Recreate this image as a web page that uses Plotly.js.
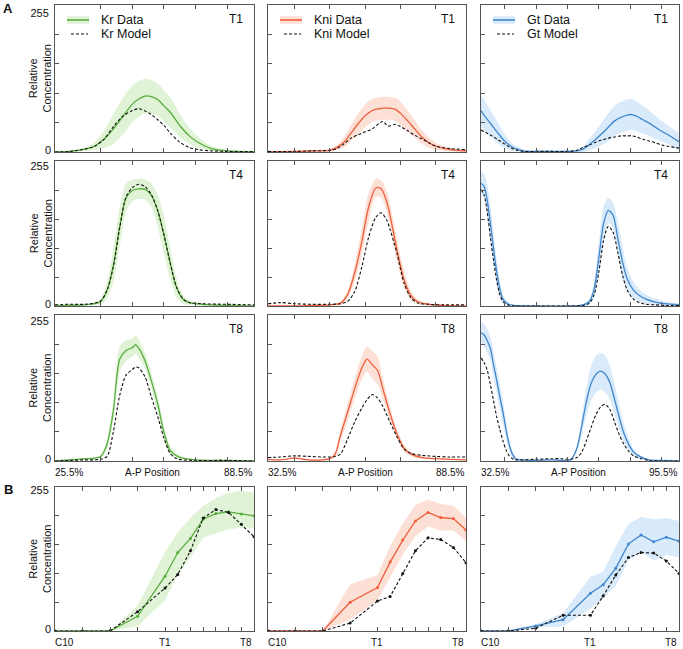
<!DOCTYPE html>
<html><head><meta charset="utf-8">
<script src="https://cdn.plot.ly/plotly-3.0.1.min.js"></script>
<style>html,body{margin:0;padding:0;background:#fff}#chart{width:683px;height:649px}</style>
</head><body><div id="chart"></div>
<script>
// ---------- DATA ----------
const genes = ['Kr', 'Kni', 'Gt'];
const timeSteps = ['T1', 'T4', 'T8'];
const apStartLabels = ['25.5%', '32.5%', '32.5%'];
const apEndLabels = ['88.5%', '88.5%', '95.5%'];
const apTitle = 'A-P Position';
const yTickValues = [0, 51, 102, 153, 204, 255];
const yTopLabel = '255';
const yBottomLabel = '0';

// Kr
const krT1X = [25.5, 30, 35, 38, 41, 44, 47, 50, 52, 54, 56, 58, 60, 62, 65, 68, 71, 75, 80, 88.5];
const krT1Data = [0, 1, 5, 10, 22, 40, 62, 83, 92, 97, 96, 91, 80, 69, 46, 28, 16, 6, 2, 0];
const krT1Model = [0, 1, 5, 10, 22, 44, 62, 72, 75, 71, 65, 56, 46, 33, 17, 8, 4, 2, 1, 1];
const krT1Sd = [0, 1, 3, 7, 15, 26, 32, 32, 31, 30, 29, 28, 27, 26, 20, 14, 9, 4, 2, 0];

const krT4X = [25.5, 30, 35, 38, 40, 42, 44, 46, 48, 50, 52, 54, 56, 58, 60, 62, 64, 66, 68, 72, 80, 88.5];
const krT4Data = [0, 1, 2, 4, 8, 28, 72, 140, 190, 203, 206, 205, 195, 168, 125, 75, 32, 12, 6, 3, 1, 0];
const krT4Model = [2, 3, 3, 5, 9, 28, 70, 138, 192, 208, 214, 210, 196, 168, 125, 75, 33, 13, 6, 4, 3, 2];
const krT4Sd = [0, 1, 1, 2, 5, 15, 30, 35, 25, 19, 18, 18, 21, 28, 33, 28, 17, 8, 4, 2, 1, 0];

const krT8X = [25.5, 30, 35, 38, 40, 42, 44, 46, 48, 50, 51, 52, 54, 56, 58, 60, 62, 64, 66, 70, 80, 88.5];
const krT8Data = [0, 2, 4, 5, 8, 30, 89, 178, 193, 198, 203, 197, 175, 140, 100, 50, 18, 9, 5, 2, 1, 0];
const krT8Model = [0, 1, 2, 2, 3, 8, 52, 115, 150, 160, 164, 163, 147, 112, 78, 40, 13, 4, 2, 1, 1, 0];
const krT8Sd = [0, 1, 1, 1, 3, 8, 18, 22, 18, 16, 16, 16, 14, 14, 14, 12, 8, 4, 2, 1, 0, 0];

// Kni
const kniT1X = [32.5, 40, 45, 50, 52, 54, 56, 58, 60, 62, 64, 65, 66.5, 68.5, 70, 72, 74, 76, 78, 80, 84, 88.5];
const kniT1Data = [0, 1, 2, 3, 8, 17, 33, 49, 63, 72, 75, 76, 76, 74, 67, 54, 40, 26, 16, 10, 4, 2];
const kniT1Model = [1, 1, 2, 3, 6, 14, 24, 30, 35, 40, 50, 53, 45, 48, 44, 37, 29, 23, 16, 10, 6, 4];
const kniT1Sd = [0, 0, 1, 2, 4, 9, 14, 18, 20, 20, 20, 20, 20, 20, 20, 18, 15, 12, 9, 6, 3, 2];

const kniT4X = [32.5, 36, 40, 45, 50, 53, 55, 57, 59, 61, 63, 64.5, 66, 67, 69, 71, 73, 75, 78, 82, 88.5];
const kniT4Data = [0, 0, 0, 1, 2, 5, 20, 58, 112, 175, 208, 206, 185, 160, 98, 46, 18, 7, 3, 1, 0];
const kniT4Model = [4, 6, 4, 3, 3, 4, 8, 25, 68, 122, 156, 164, 152, 135, 92, 40, 14, 5, 3, 2, 2];
const kniT4Sd = [0, 0, 0, 0, 1, 3, 6, 15, 25, 25, 16, 15, 18, 20, 20, 15, 8, 4, 2, 1, 0];

const kniT8X = [32.5, 36, 40, 44, 48, 50, 51.5, 53, 55, 57, 59, 60.5, 62, 63.5, 65, 67, 69, 71, 73, 76, 80, 84, 88.5];
const kniT8Data = [3, 2, 5, 2, 2, 4, 12, 45, 85, 126, 162, 178, 168, 158, 126, 83, 47, 22, 12, 6, 4, 3, 2];
const kniT8Model = [6, 7, 9, 8, 7, 7, 8, 12, 38, 68, 92, 107, 116, 110, 95, 68, 42, 21, 13, 10, 8, 7, 7];
const kniT8Sd = [0, 0, 1, 1, 1, 1, 5, 10, 15, 18, 20, 22, 24, 24, 18, 12, 8, 6, 4, 2, 1, 1, 0];

// Gt
const gtT1X = [32.5, 34, 36, 38, 40, 42, 44, 46, 50, 55, 60, 63, 65, 67, 69, 71, 73, 75, 77, 79, 80.5, 82, 84, 86, 88, 90, 92, 94, 95.5];
const gtT1Data = [72, 60, 46, 32, 19, 10, 5, 2, 1, 1, 1, 2, 5, 13, 22, 32, 43, 54, 60, 64, 65, 62, 56, 50, 43, 36, 30, 23, 18];
const gtT1Model = [38, 34, 28, 21, 14, 7, 3, 1, 1, 1, 1, 3, 8, 12, 17, 21, 24, 26, 28, 28, 28, 26, 22, 19, 16, 12, 10, 8, 7];
const gtT1Sd = [28, 26, 22, 18, 12, 7, 4, 2, 1, 1, 1, 2, 5, 10, 15, 20, 24, 26, 27, 27, 27, 26, 24, 22, 20, 18, 16, 15, 14];

const gtT4X = [32.5, 33.5, 34.5, 35.5, 36.5, 37.5, 38.5, 39.5, 41, 43, 50, 60, 65, 67, 68.5, 70, 71.5, 73, 74.5, 76, 77.5, 79, 81, 83, 85, 88, 91, 95.5];
const gtT4Data = [216, 210, 185, 145, 100, 60, 30, 12, 4, 1, 0, 0, 2, 8, 30, 85, 145, 168, 160, 120, 78, 48, 28, 18, 12, 7, 4, 2];
const gtT4Model = [205, 195, 165, 120, 80, 45, 20, 8, 2, 0, 0, 0, 1, 5, 20, 60, 115, 140, 130, 95, 55, 28, 12, 6, 3, 2, 1, 1];
const gtT4Sd = [20, 22, 28, 30, 28, 22, 14, 7, 3, 1, 0, 0, 2, 5, 15, 28, 30, 22, 22, 30, 28, 20, 14, 10, 8, 6, 4, 3];

const gtT8X = [32.5, 33.5, 34.5, 35.5, 36.5, 37.5, 38.5, 39.5, 40.5, 41.5, 42.5, 43.5, 45, 50, 55, 58, 61, 63, 64.5, 66, 67.5, 69, 70.5, 72, 73.5, 75, 76.5, 78, 79.5, 81, 83, 86, 90, 95.5];
const gtT8Data = [224, 220, 210, 196, 168, 141, 112, 85, 54, 28, 12, 4, 2, 1, 2, 1, 2, 22, 60, 103, 135, 151, 157, 152, 137, 108, 76, 48, 29, 16, 8, 2, 1, 0];
const gtT8Model = [180, 172, 158, 133, 105, 77, 55, 35, 19, 9, 4, 2, 2, 3, 4, 4, 3, 6, 15, 35, 58, 80, 94, 99, 90, 68, 46, 29, 17, 9, 5, 1, 0, 0];
const gtT8Sd = [18, 19, 20, 21, 22, 22, 22, 20, 15, 10, 6, 3, 1, 0, 0, 0, 1, 5, 15, 25, 30, 32, 32, 32, 30, 26, 22, 16, 10, 6, 3, 1, 0, 0];

// Panel B: time course
const timeLabels = ['C10', 'C11', 'C12', 'C13', 'T1', 'T2', 'T3', 'T4', 'T5', 'T6', 'T7', 'T8'];
const timePos = [0, 2.165, 4.33, 6.495, 8.66, 9.66, 10.66, 11.66, 12.66, 13.66, 14.66, 15.66];
const shownTimeLabels = ['C10', 'T1', 'T8'];
const krTimeData = [0, 0, 0, 26, 97, 139, 164, 198, 208, 211, 207, 204];
const krTimeModel = [0, 0, 0, 34, 76, 100, 142, 200, 215, 210, 189, 167];
const krTimeLo = [0, 0, 0, 8, 55, 100, 130, 165, 172, 180, 183, 183];
const krTimeHi = [0, 0, 0, 45, 140, 175, 200, 222, 235, 245, 248, 245];
const kniTimeData = [0, 0, 0, 51, 77, 122, 161, 195, 210, 201, 199, 179];
const kniTimeModel = [0, 0, 0, 14, 53, 61, 102, 142, 165, 162, 148, 121];
const kniTimeLo = [0, 0, 0, 20, 55, 95, 135, 168, 185, 178, 178, 160];
const kniTimeHi = [0, 0, 0, 83, 99, 150, 190, 223, 233, 225, 222, 200];
const gtTimeData = [0, 0, 9, 20, 67, 82, 111, 154, 170, 158, 166, 159];
const gtTimeModel = [0, 0, 5, 28, 28, 62, 99, 130, 139, 138, 124, 102];
const gtTimeLo = [0, 0, 6, 8, 40, 58, 80, 125, 140, 125, 135, 130];
const gtTimeHi = [0, 0, 12, 32, 96, 105, 150, 190, 202, 198, 200, 195];

// ---------- STYLE / LAYOUT ----------
const W = 683, H = 649;
const colL = [55, 268, 481], colR = [254, 466, 679];
const rowT = [5, 161, 315, 487], rowBt = [152, 306, 461, 631];
const topLabelShift = [8, 5, 6, 3];
const bottomLabelShift = -2;
const apRanges = [[25.5, 88.5], [32.5, 88.5], [32.5, 95.5]];
const apTicks = [[40, 50, 60, 70, 80], [40, 50, 60, 70, 80], [40, 50, 60, 70, 80, 90]];
const lineColors = ['#56ae3c', '#ef5e3b', '#3f86cd'];
const bandColors = ['#e1f3d6', '#fde0d5', '#d9eafa'];
const axisColor = '#555';
const FONT = 'Liberation Sans, Arial, Helvetica, sans-serif';
const fx = p => p / W, fy = p => 1 - p / H;

const apPanels = [
  [[krT1X, krT1Data, krT1Model, krT1Sd], [kniT1X, kniT1Data, kniT1Model, kniT1Sd], [gtT1X, gtT1Data, gtT1Model, gtT1Sd]],
  [[krT4X, krT4Data, krT4Model, krT4Sd], [kniT4X, kniT4Data, kniT4Model, kniT4Sd], [gtT4X, gtT4Data, gtT4Model, gtT4Sd]],
  [[krT8X, krT8Data, krT8Model, krT8Sd], [kniT8X, kniT8Data, kniT8Model, kniT8Sd], [gtT8X, gtT8Data, gtT8Model, gtT8Sd]]
];
const timePanels = [
  [krTimeData, krTimeModel, krTimeLo, krTimeHi],
  [kniTimeData, kniTimeModel, kniTimeLo, kniTimeHi],
  [gtTimeData, gtTimeModel, gtTimeLo, gtTimeHi]
];

const traces = [];
const layout = {
  width: W, height: H, margin: {l: 0, r: 0, t: 0, b: 0},
  paper_bgcolor: '#fff', plot_bgcolor: '#fff', showlegend: false,
  font: {family: FONT, size: 11, color: '#111'},
  annotations: [], shapes: []
};
const axName = (base, n) => n === 1 ? base : base + n;
const tickFont = {size: 11, family: FONT, color: '#111'};

for (let r = 0; r < 4; r++) {
  for (let c = 0; c < 3; c++) {
    const n = r * 3 + 1 + c;
    const xa = axName('x', n), ya = axName('y', n);
    layout[axName('xaxis', n)] = {
      domain: [fx(colL[c]), fx(colR[c])], anchor: ya,
      range: r < 3 ? apRanges[c] : [timePos[0], timePos[timePos.length - 1]],
      tickvals: r < 3 ? apTicks[c] : timePos,
      showticklabels: false, ticks: 'inside', ticklen: 4, tickwidth: 1, tickcolor: axisColor,
      showline: true, linecolor: axisColor, linewidth: 1, mirror: 'ticks',
      showgrid: false, zeroline: false, fixedrange: true
    };
    layout[axName('yaxis', n)] = {
      domain: [fy(rowBt[r]), fy(rowT[r])], anchor: xa, range: [0, 255],
      tickvals: yTickValues, ticktext: yTickValues.map((v, i) => i === yTickValues.length - 1 ? yTopLabel : ''),
      showticklabels: c === 0, ticklabelshift: topLabelShift[r], ticklabelstandoff: 3,
      tickfont: tickFont,
      ticks: 'inside', ticklen: 4, tickwidth: 1, tickcolor: axisColor,
      showline: true, linecolor: axisColor, linewidth: 1, mirror: true,
      showgrid: false, zeroline: false, fixedrange: true
    };

    let X, D, M, LO, HI, shape, markers;
    if (r < 3) {
      const p = apPanels[r][c];
      X = p[0]; D = p[1]; M = p[2];
      LO = D.map((v, i) => Math.max(0, v - p[3][i]));
      HI = D.map((v, i) => v + p[3][i]);
      shape = 'spline'; markers = false;
    } else {
      const p = timePanels[c];
      X = timePos; D = p[0]; M = p[1]; LO = p[2]; HI = p[3];
      shape = 'linear'; markers = true;
    }
    traces.push({x: X, y: LO, xaxis: xa, yaxis: ya, mode: 'lines', line: {width: 0, shape, smoothing: 0.8}, hoverinfo: 'skip'});
    traces.push({x: X, y: HI, xaxis: xa, yaxis: ya, mode: 'lines', fill: 'tonexty', fillcolor: bandColors[c], line: {width: 0, shape, smoothing: 0.8}, hoverinfo: 'skip'});
    traces.push({x: X, y: D, xaxis: xa, yaxis: ya, name: genes[c] + ' Data', mode: markers ? 'lines+markers' : 'lines',
      line: {color: lineColors[c], width: 1.3, shape, smoothing: 0.8}, marker: {size: 3, color: lineColors[c]}});
    traces.push({x: X, y: M, xaxis: xa, yaxis: ya, name: genes[c] + ' Model', mode: markers ? 'lines+markers' : 'lines',
      line: {color: '#111', width: 1.1, dash: '3px,2px', shape, smoothing: 0.8}, marker: {size: 3, color: '#111'}});

    if (r < 3) {
      layout.annotations.push({xref: 'paper', yref: 'paper', x: fx(colR[c] - 9), y: fy(rowT[r] + 14),
        xanchor: 'right', yanchor: 'middle', text: timeSteps[r], showarrow: false, font: {size: 12, family: FONT, color: '#111'}});
    }
  }
  // overlay y axis carrying the bottom "0" label for the left column
  const on = 13 + r;
  const baseN = r * 3 + 1;
  layout['yaxis' + on] = {
    overlaying: axName('y', baseN), anchor: axName('x', baseN), side: 'left', range: [0, 255],
    tickvals: [0], ticktext: [yBottomLabel], ticks: '', showline: false, showgrid: false, zeroline: false,
    ticklabelshift: bottomLabelShift, ticklabelstandoff: 3, tickfont: tickFont, fixedrange: true
  };
  traces.push({x: [], y: [], xaxis: axName('x', baseN), yaxis: 'y' + on, mode: 'lines', hoverinfo: 'skip'});

  layout.annotations.push({xref: 'paper', yref: 'paper', x: fx(40), y: fy((rowT[r] + rowBt[r]) / 2),
    xanchor: 'center', yanchor: 'middle', textangle: -90, text: 'Relative<br>Concentration', showarrow: false,
    font: {size: 11, family: FONT, color: '#111'}});
}

for (let c = 0; c < 3; c++) {
  const yL = fy(472);
  const f = {size: 10, family: FONT, color: '#111'};
  layout.annotations.push({xref: 'paper', yref: 'paper', x: fx(colL[c] - 2), y: yL, xanchor: 'left', yanchor: 'middle', text: apStartLabels[c], showarrow: false, font: f});
  layout.annotations.push({xref: 'paper', yref: 'paper', x: fx(colR[c]), y: yL, xanchor: 'right', yanchor: 'middle', text: apEndLabels[c], showarrow: false, font: f});
  layout.annotations.push({xref: 'paper', yref: 'paper', x: fx((colL[c] + colR[c]) / 2 - 2), y: yL, xanchor: 'center', yanchor: 'middle', text: apTitle, showarrow: false, font: f});
  const yB = fy(642);
  const xa = axName('x', 10 + c);
  layout.annotations.push({xref: 'paper', yref: 'paper', x: fx(colL[c] - 2), y: yB, xanchor: 'left', yanchor: 'middle', text: shownTimeLabels[0], showarrow: false, font: f});
  layout.annotations.push({xref: xa, yref: 'paper', x: timePos[timeLabels.indexOf(shownTimeLabels[1])], y: yB, xanchor: 'center', yanchor: 'middle', text: shownTimeLabels[1], showarrow: false, font: f});
  layout.annotations.push({xref: 'paper', yref: 'paper', x: fx(colR[c]), y: yB, xanchor: 'right', yanchor: 'middle', text: shownTimeLabels[2], showarrow: false, font: f});

  // legends in top row
  const L = colL[c], T = rowT[0];
  const yD = T + 15, yM = T + 29;
  layout.shapes.push({type: 'rect', xref: 'paper', yref: 'paper', x0: fx(L + 12), x1: fx(L + 34), y0: fy(yD - 3.8), y1: fy(yD + 3.8), fillcolor: bandColors[c], line: {width: 0}});
  layout.shapes.push({type: 'line', xref: 'paper', yref: 'paper', x0: fx(L + 12), x1: fx(L + 34), y0: fy(yD), y1: fy(yD), line: {color: lineColors[c], width: 1.6}});
  layout.shapes.push({type: 'line', xref: 'paper', yref: 'paper', x0: fx(L + 16), x1: fx(L + 33), y0: fy(yM), y1: fy(yM), line: {color: '#111', width: 1.1, dash: '3px,2px'}});
  layout.annotations.push({xref: 'paper', yref: 'paper', x: fx(L + 44), y: fy(yD), xanchor: 'left', yanchor: 'middle', text: genes[c] + ' Data', showarrow: false, font: {size: 12.5, family: FONT, color: '#111'}});
  layout.annotations.push({xref: 'paper', yref: 'paper', x: fx(L + 44), y: fy(yM), xanchor: 'left', yanchor: 'middle', text: genes[c] + ' Model', showarrow: false, font: {size: 12.5, family: FONT, color: '#111'}});
}

layout.annotations.push({xref: 'paper', yref: 'paper', x: fx(8), y: fy(8.5), xanchor: 'center', yanchor: 'middle', text: '<b>A</b>', showarrow: false, font: {size: 13, family: FONT, color: '#111'}});
layout.annotations.push({xref: 'paper', yref: 'paper', x: fx(8), y: fy(489), xanchor: 'center', yanchor: 'middle', text: '<b>B</b>', showarrow: false, font: {size: 13, family: FONT, color: '#111'}});

Plotly.newPlot('chart', traces, layout, {staticPlot: true, displayModeBar: false});
</script></body></html>
